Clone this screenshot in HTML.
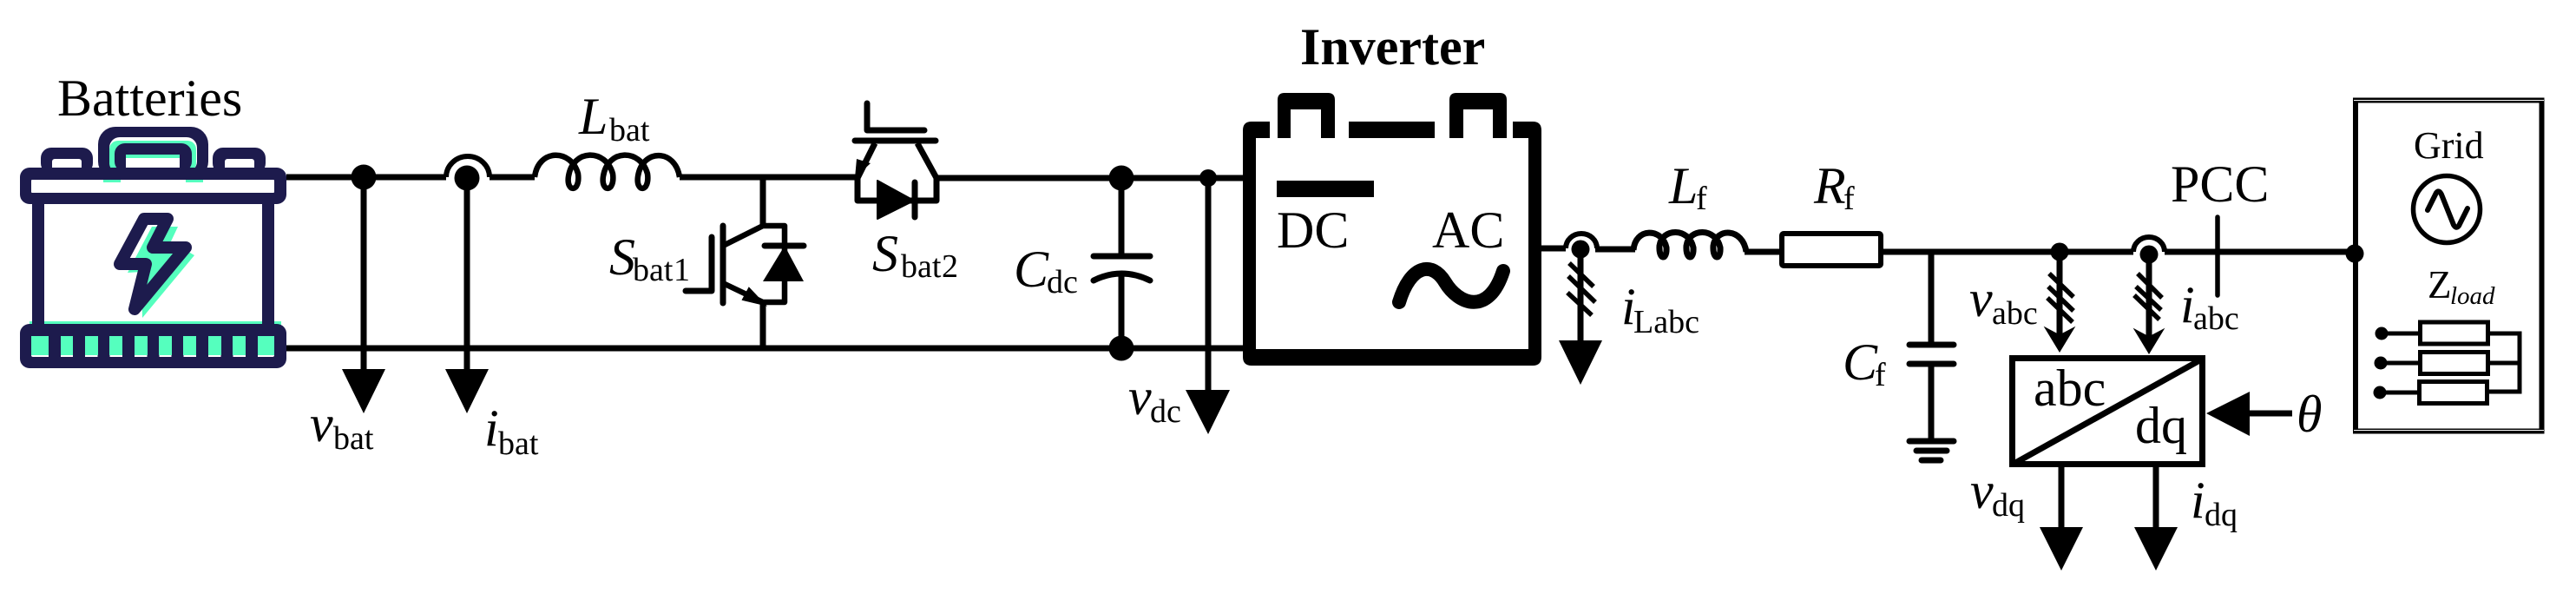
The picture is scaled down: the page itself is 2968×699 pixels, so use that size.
<!DOCTYPE html>
<html><head><meta charset="utf-8"><style>
html,body{margin:0;padding:0;background:#fff}
svg{display:block}
text{font-family:"Liberation Serif",serif;fill:#000}
.m{font-size:60px}.s{font-size:38px}.i{font-style:italic}
.w{fill:none;stroke:#000;stroke-width:7}
.t{fill:none;stroke:#000;stroke-width:5.5}
</style></head><body>
<svg width="2968" height="699" viewBox="0 0 2968 699" xmlns="http://www.w3.org/2000/svg">
<rect width="2968" height="699" fill="#fff"/>

<!-- battery icon -->
<g>
<rect x="34" y="370" width="290" height="8" fill="#55FFBE"/>
<rect x="113" y="146" width="127" height="60" rx="20" fill="#1D1B4D"/>
<rect x="126" y="158" width="101" height="40" rx="12" fill="#fff"/>
<rect x="126" y="162" width="100" height="36" rx="10" fill="#55FFBE"/>
<rect x="132" y="165" width="89" height="33" rx="12" fill="#1D1B4D"/>
<rect x="145" y="178" width="62" height="18" fill="#fff"/>
<rect x="145" y="178" width="62" height="4" fill="#55FFBE"/>
<rect x="47" y="170" width="60" height="30" rx="12" fill="#1D1B4D"/>
<rect x="60" y="183" width="34" height="14" rx="3" fill="#fff"/>
<rect x="245" y="170" width="61" height="30" rx="12" fill="#1D1B4D"/>
<rect x="259" y="183" width="34" height="14" rx="3" fill="#fff"/>
<rect x="23" y="193" width="307" height="42" rx="11" fill="#1D1B4D"/>
<rect x="36" y="207" width="280" height="15" rx="1" fill="#fff"/>
<rect x="119" y="207" width="20" height="3" fill="#55FFBE"/>
<rect x="214" y="207" width="20" height="3" fill="#55FFBE"/>
<rect x="37" y="230" width="14" height="150" fill="#1D1B4D"/>
<rect x="302" y="230" width="14" height="150" fill="#1D1B4D"/>
<rect x="23" y="373" width="307" height="51" rx="11" fill="#1D1B4D"/>
<rect x="36" y="387" width="280" height="24" rx="2" fill="#fff"/>
<path d="M63,380V420M91,380V420M119.500,380V420M148,380V420M176.500,380V420M204.500,380V420M233,380V420M261.500,380V420M290,380V420" stroke="#1D1B4D" stroke-width="14" fill="none"/>
<g fill="#55FFBE">
<rect x="36" y="387" width="20" height="22"/><rect x="70" y="387" width="14" height="22"/><rect x="98" y="387" width="15" height="22"/><rect x="126" y="387" width="15" height="22"/><rect x="155" y="387" width="15" height="22"/><rect x="183" y="387" width="15" height="22"/><rect x="211" y="387" width="15" height="22"/><rect x="240" y="387" width="15" height="22"/><rect x="268" y="387" width="15" height="22"/><rect x="297" y="387" width="19" height="22"/>
</g>
<polygon points="175,261 205,261 197,278 224,294 164,366 163,313 147,314" fill="#55FFBE"/>
<polygon points="166,252 193,252 176,285 214,285 155,356 168,304 138,304" fill="none" stroke="#1D1B4D" stroke-width="14" stroke-linejoin="round"/>
</g>

<!-- main wires -->
<path class="w" d="M330,204H514M564,204H616M783,204H986M1079,205H1432M330,401H1432"/>
<path class="t" style="stroke-width:6" d="M514,204A25,24 0 0 1 564,204"/>
<path class="t" style="stroke-width:6.500" stroke-linejoin="round" d="M616,204C620,171 658,171 666,200C669,222 652,222 655,203C660,171 698,171 706,200C709,222 692,222 695,203C700,171 738,171 746,200C749,222 732,222 735,203C740,171 778,171 783,204"/>
<circle cx="419" cy="204" r="14.500"/>
<circle cx="538" cy="205" r="14.500"/>
<path class="w" d="M419,204V430M538,205V430"/>
<polygon points="394,425 444,425 419,476"/>
<polygon points="513,425 563,425 538,476"/>

<!-- S1 -->
<path class="w" d="M879,204V260M879,348V401"/>
<path class="t" style="stroke-width:6.500" stroke-linejoin="round" d="M835,282L879,260H904V348H879L835,327"/>
<path class="w" stroke-linecap="round" d="M833,260V349"/>
<path class="w" stroke-linecap="round" stroke-linejoin="round" d="M820,273V335H790"/>
<polygon points="856,345 881,351 863,332" stroke="#000" stroke-width="2"/>
<polygon points="879,324 926,324 904,283"/>
<path d="M881,283H926" class="w" stroke-linecap="round"/>
<!-- S2 -->
<path class="w" stroke-linecap="round" stroke-linejoin="round" d="M999,119V150H1065"/>
<path class="w" stroke-linecap="round" d="M985,162H1078"/>
<path class="w" stroke-linejoin="round" d="M1008,165L988,205V231H1079V205L1057,165"/>
<polygon points="985,205 1003,188 987,183"/>
<polygon points="1011,208 1011,252 1053,231" stroke="#000" stroke-width="2" stroke-linejoin="round"/>
<path class="w" stroke-linecap="round" d="M1054,210V250"/>

<!-- Cdc -->
<circle cx="1292" cy="205" r="14.500"/>
<circle cx="1292" cy="401" r="14.500"/>
<path class="w" d="M1292,205V295M1292,315V401"/>
<path class="w" stroke-linecap="round" d="M1260,295H1325"/>
<path class="w" stroke-linecap="round" d="M1260,323Q1292,307 1325,323"/>
<circle cx="1392" cy="205" r="10"/>
<path class="w" d="M1392,205V452"/>
<polygon points="1366,449 1417,449 1392,500"/>

<!-- inverter -->
<g>
<path d="M1432,421V150Q1432,140 1442,140H1463V159H1447V402H1761V159H1743V140H1766Q1776,140 1776,150V411Q1776,421 1766,421H1442Q1432,421 1432,411Z"/>
<rect x="1554" y="140" width="99" height="19"/>
<path d="M1472,159V115Q1472,107 1480,107H1530Q1538,107 1538,115V159H1522V126H1487V159Z"/>
<path d="M1670,159V115Q1670,107 1678,107H1728Q1736,107 1736,115V159H1720V126H1686V159Z"/>
<rect x="1471" y="208" width="112" height="19"/>
<path d="M1612,348C1625,305 1650,300 1665,325C1680,350 1715,365 1732,312" fill="none" stroke="#000" stroke-width="16" stroke-linecap="round"/>
</g>

<!-- AC side -->
<path class="w" d="M1776,286H1804M1838,287H1884M2010,290H2050M2170,290H2458M2494,290H2713"/>
<path class="t" style="stroke-width:6" d="M1804,286A18,17 0 0 1 1840,286"/>
<circle cx="1821" cy="287" r="10.500"/>
<path class="w" d="M1821,287V396"/>
<path class="t" d="M1808,303L1836,330M1807,318L1838,348M1806,337L1834,363"/>
<polygon points="1796,392 1846,392 1821,443"/>
<path class="t" style="stroke-width:7" stroke-linejoin="round" d="M1882,288C1884,262 1915,262 1920,285C1921,300 1911,300 1912,283C1915,262 1946,262 1951,285C1952,300 1942,300 1943,283C1946,262 1977,262 1982,285C1983,300 1973,300 1974,283C1977,262 2008,262 2012,290"/>
<rect x="2053" y="269" width="114" height="37" rx="2" fill="#fff" stroke="#000" stroke-width="6"/>

<!-- Cf -->
<path class="w" d="M2225,290V397M2225,419V508"/>
<path class="w" stroke-linecap="round" d="M2200,397H2251M2200,419H2251M2200,508H2251"/>
<path class="w" stroke-linecap="round" d="M2208,519H2243M2214,530H2236"/>

<!-- measurement taps -->
<circle cx="2373" cy="290" r="10.500"/>
<path class="w" d="M2373,290V395"/>
<path class="t" d="M2361,315L2389,342M2360,330L2389,358M2359,343L2388,371"/>
<polygon points="2356,377 2373,386 2390,377 2373,405" stroke="#000" stroke-width="1"/>
<path class="t" style="stroke-width:6" d="M2458,290A18,17 0 0 1 2494,290"/>
<circle cx="2476" cy="293" r="10.500"/>
<path class="w" d="M2476,293V395"/>
<path class="t" d="M2463,315L2491,343M2461,330L2490,357M2459,340L2488,368"/>
<polygon points="2459,379 2476,388 2493,379 2476,407" stroke="#000" stroke-width="1"/>
<path class="t" stroke-linecap="round" d="M2555,250V340"/>

<!-- abc/dq -->
<rect x="2318.500" y="412.500" width="219" height="122" fill="#fff" stroke="#000" stroke-width="7"/>
<path class="w" d="M2322,533L2538,413"/>
<path class="w" d="M2375,538V612M2484,538V612"/>
<polygon points="2350,607 2400,607 2375,657"/>
<polygon points="2459,607 2509,607 2484,657"/>
<polygon points="2542,476 2592,451 2592,502"/>
<path class="w" d="M2590,476H2641"/>

<!-- grid -->
<rect x="2714" y="115.500" width="214.500" height="381" fill="none" stroke="#000" stroke-width="6"/>
<path d="M2712,115.500H2931M2712,495.500H2931" stroke="#fff" stroke-width="1"/>
<circle cx="2713" cy="292" r="10.500"/>
<circle cx="2819" cy="241" r="38.500" fill="none" stroke="#000" stroke-width="5.500"/>
<path d="M2797,242L2807,222Q2810,218 2813,224L2827,259Q2830,264 2833,260L2843,240" fill="none" stroke="#000" stroke-width="6" stroke-linecap="round"/>
<path class="t" style="stroke-width:5" d="M2744,384H2788M2743,418H2788M2742,452H2787M2867,384H2903V451H2866M2867,418H2903"/>
<rect x="2788.500" y="371" width="78" height="25" fill="#fff" stroke="#000" stroke-width="5"/>
<rect x="2788.500" y="405.500" width="78" height="25" fill="#fff" stroke="#000" stroke-width="5"/>
<rect x="2787.500" y="439.500" width="78" height="25" fill="#fff" stroke="#000" stroke-width="5"/>
<circle cx="2744" cy="384" r="7.500"/>
<circle cx="2743" cy="418" r="7.500"/>
<circle cx="2742" cy="452" r="7.500"/>

<!-- labels -->
<text class="m" x="66" y="133">Batteries</text>
<text class="m" x="1498" y="74" font-weight="bold">Inverter</text>
<text class="m" x="1471" y="285">DC</text>
<text class="m" x="1650" y="285">AC</text>
<text class="m" x="2501" y="232">PCC</text>
<text class="m" x="2343" y="467">abc</text>
<text class="m" x="2460" y="510">dq</text>
<text class="m i" x="2646" y="497">θ</text>
<text x="2781" y="182" font-size="44">Grid</text>
<text x="2797" y="343" font-size="45">Z</text>
<text x="2823" y="350" font-size="29" font-style="italic">load</text>

<text class="m i" x="357" y="508">v</text><text class="s" x="384" y="517">bat</text>
<text class="m i" x="558" y="513">i</text><text class="s" x="574" y="523">bat</text>
<text class="m i" x="667" y="154">L</text><text class="s" x="702" y="162">bat</text>
<text class="m i" x="702" y="316">S</text><text class="s" x="729" y="323">bat</text><text class="s" x="776" y="323">1</text>
<text class="m i" x="1005" y="312">S</text><text class="s" x="1038" y="319">bat</text><text class="s" x="1085" y="319">2</text>
<text class="m i" x="1168" y="330">C</text><text class="s" x="1206" y="337">dc</text>
<text class="m i" x="1300" y="477">v</text><text class="s" x="1325" y="486">dc</text>
<text class="m i" x="1868" y="373">i</text><text class="s" x="1882" y="383">Labc</text>
<text class="m i" x="1923" y="234">L</text><text class="s" x="1954" y="241">f</text>
<text class="m i" x="2090" y="234">R</text><text class="s" x="2124" y="241">f</text>
<text class="m i" x="2123" y="437">C</text><text class="s" x="2160" y="444">f</text>
<text class="m i" x="2269" y="364">v</text><text class="s" x="2295" y="373">abc</text>
<text class="m i" x="2512" y="371">i</text><text class="s" x="2527" y="379">abc</text>
<text class="m i" x="2270" y="585">v</text><text class="s" x="2295" y="594">dq</text>
<text class="m i" x="2524" y="596">i</text><text class="s" x="2540" y="605">dq</text>
</svg>
</body></html>
